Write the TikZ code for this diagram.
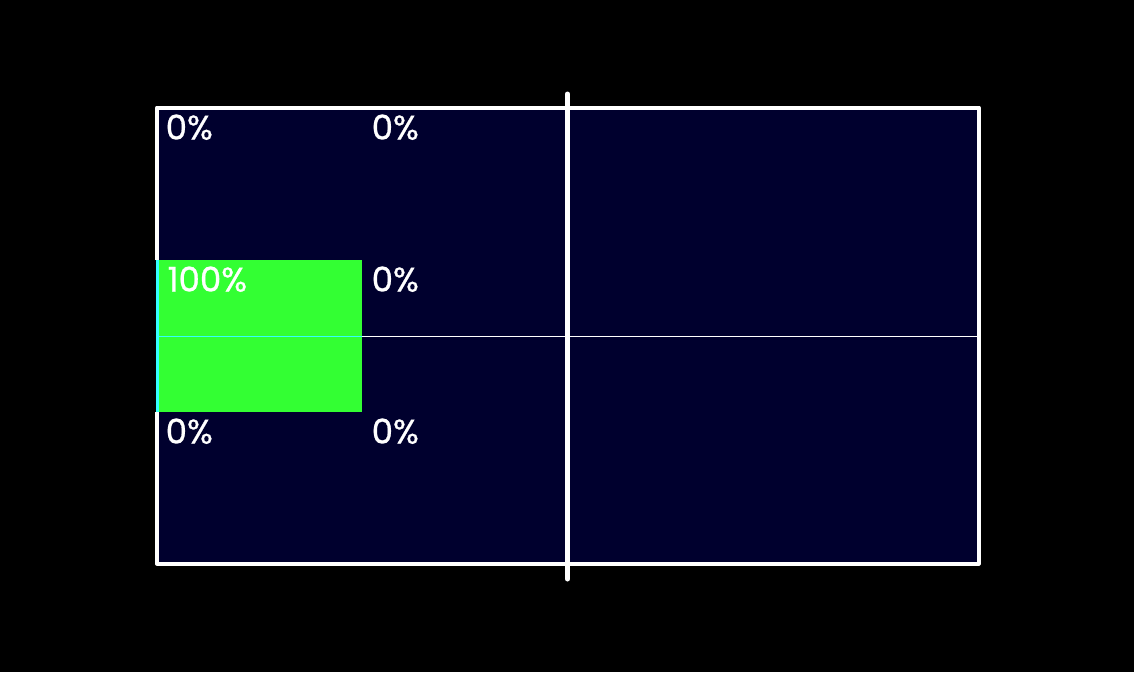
\documentclass[tikz,border=0pt]{standalone}
\usepackage{fontspec}
\setmainfont{Poppins}
\newfontfamily\pctfont{Poppins}[FakeBold=0.8]
\definecolor{court}{HTML}{00002E}
\definecolor{zone}{HTML}{33FF33}
\definecolor{edge}{HTML}{33FFFF}
\begin{document}
\begin{tikzpicture}[x=1pt,y=-1pt,
  pct/.style={anchor=base west,inner sep=0pt,text=white,font=\pctfont\fontsize{34}{34}\selectfont}]
\useasboundingbox (0,0) rectangle (1134,672);
\fill[black] (0,0) rectangle (1134,672);
\fill[court] (157,107.5) rectangle (978.5,563.5);
\fill[zone] (156,260) rectangle (362,411.5);
\draw[white,line width=1pt] (362,336.3) -- (978.5,336.3);
\draw[white,line width=4pt,line join=round] (157,107.5) rectangle (978.5,563.5);
\fill[zone] (159,260) rectangle (362,411.5);
\draw[edge,line width=1pt] (159,336.3) -- (362,336.3);
\fill[black] (154,260) rectangle (156,411.5);
\fill[edge] (156,260) rectangle (159,411.5);
\draw[white,line width=5pt,line cap=round] (567.5,94) -- (567.5,579);
\node[pct] (a1) at (165.5,139.5) {0\%};
\node[pct] (b1) at (371.5,139.5) {0\%};
\node[pct] (a2) at (167.5,291.5) {100\%};
\node[pct] (b2) at (371.5,291.5) {0\%};
\node[pct] (a3) at (165.5,443.5) {0\%};
\node[pct] (b3) at (371.5,443.5) {0\%};
\end{tikzpicture}
\end{document}
